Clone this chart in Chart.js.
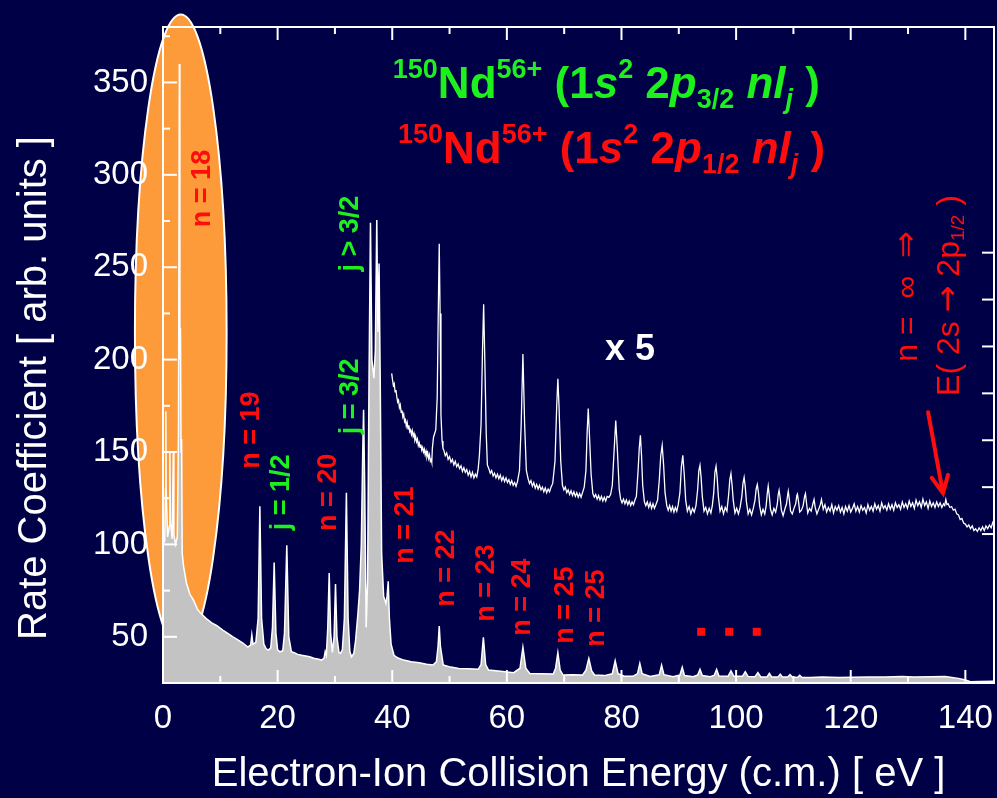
<!DOCTYPE html>
<html>
<head>
<meta charset="utf-8">
<script src="https://cdn.jsdelivr.net/npm/chart.js@4.4.1/dist/chart.umd.min.js"></script>
<style>
  html, body { margin: 0; padding: 0; background: #000046; }
  #wrap { width: 997px; height: 798px; position: relative; }
</style>
</head>
<body>
<div id="wrap"><canvas id="dr"></canvas></div>
<script>
// DR spectrum, full rate (grey) — energy in eV, rate in arb. units
const mainE = [0.0,0.3,0.45,0.5,0.55,0.8,1.1,1.2,1.3,1.6,1.8,1.9,2.2,2.5,2.7,2.85,2.95,3.05,3.15,3.25,3.35,3.6,4.1,4.7,5.3,6.0,6.5,7.5,8.5,9.4,
  10.5,11.5,12.2,13.0,14.0,14.8,15.3,15.5,15.7,16.2,16.6,16.9,17.2,17.6,18.0,18.4,18.8,19.1,19.4,19.7,20.0,20.4,20.9,21.2,21.6,21.95,22.4,22.9,
  23.5,24.2,24.9,25.6,26.3,27.0,27.7,28.1,28.3,28.5,28.75,29.0,29.25,29.55,29.85,30.1,30.35,30.7,30.95,31.3,31.65,32.0,32.3,32.6,32.9,
  33.3,33.6,34.0,34.3,34.6,34.85,35.0,35.2,35.45,35.7,35.95,36.2,36.45,36.8,37.05,37.3,37.5,37.7,37.9,38.15,38.5,38.9,39.1,39.3,39.5,39.8,
  40.3,41.0,42.0,43.3,44.7,46.0,47.1,47.7,48.0,48.2,48.4,48.9,50.2,51.6,53.3,55.0,55.5,55.9,56.3,56.8,58.5,60.0,61.2,62.3,62.8,63.3,64.0,
  66.0,68.1,68.5,68.9,69.3,69.8,71.5,73.2,73.8,74.3,74.8,75.3,77.0,78.4,78.9,79.4,80.5,82.0,82.8,83.2,83.6,85.0,86.6,87.0,87.4,89.0,90.2,
  90.6,91.0,92.5,93.3,93.7,94.1,95.5,96.2,96.6,97.0,98.6,99.1,99.6,101.1,101.6,102.1,103.3,103.8,104.3,105.4,105.8,106.2,107.3,107.7,108.1,
  109.0,109.4,109.8,110.7,111.1,111.5,113.0,115.0,118.0,120.3,123.0,126.0,129.0,131.0,134.0,136.5,138.8,140.0,140.9,142.5,145.0];
const mainRate = [100,102,130,172,130,104,110,150,112,103,150,105,100,104,160,360,200,217,150,157,95,88,79,73,70,65,63,60,57.5,56,
  53.5,51.5,50,48.5,46.5,44.5,45.5,51,46,47,60,120.7,60,46,43.5,42.8,44,55,90.2,52,43,41.9,42.5,52,99.6,50,42,41.4,
  40.5,40,39.6,39.2,38.4,38,37.4,38.5,42,40,55,84.5,52,41.5,50,78.5,50,41.5,41,43,60,128,60,42,39.2,
  41,48,62,75,100,150,172.8,130,55,80,190,274,200,190,205,275.5,215,252,190,95,72,68,72,80,60,46,
  40,38.5,37.4,36.5,36,35.2,34.7,36.5,45,55.8,45,34.7,33.6,32.9,32.7,32.4,35,49.7,35,32,31.5,31,30.6,33,44.3,33,30.2,
  30,29.9,33,41.4,32,29.3,29.5,29.3,32,38.3,31.5,29.3,29,30,37,30,28.7,28.6,30,35.6,30,28.5,29.5,34.6,29.5,28.4,29.3,
  33.5,29,28.4,29.3,32.4,29,28.4,29.2,32.4,28.8,28.6,31.6,28.6,28.6,31.1,28.5,28.4,30.6,28.3,28.3,30.2,28.3,28.2,29.8,28.2,
  28.2,29.5,28.2,28,29.2,28,28,28.2,28,28.1,28.3,28.2,28.5,28.3,28.4,28.5,27.5,26.6,25.7,25.8,26];

// same spectrum above 40 eV, magnified x 5 (white trace)
const x5E = [39.9,40.05,40.2,40.35,40.5,40.65,40.8,40.95,41.1,41.25,41.4,41.55,41.7,41.85,42.0,42.15,42.3,42.45,42.6,42.75,42.9,43.05,43.2,
  43.35,43.5,43.65,43.8,43.95,44.1,44.25,44.4,44.55,44.7,44.85,45.0,45.15,45.3,45.45,45.6,45.75,45.9,46.05,46.2,46.35,46.5,46.65,46.8,46.9,
  47.0,47.2,47.4,47.6,47.85,48.05,48.2,48.35,48.5,48.7,48.85,
  49.0,49.25,49.5,49.75,50.0,50.25,50.5,50.75,51.0,51.25,51.5,51.75,52.0,52.25,52.5,52.75,53.0,53.25,53.5,53.75,54.0,54.25,54.5,54.75,55.0,
  55.2,55.5,55.75,55.95,56.15,56.4,56.6,
  56.85,57.1,57.35,57.6,57.85,58.1,58.35,58.6,58.85,59.1,59.35,59.6,59.85,60.1,60.35,60.6,60.85,61.1,61.35,61.6,61.85,
  62.2,62.5,62.8,63.1,63.4,
  63.7,63.95,64.2,64.45,64.7,64.95,65.2,65.45,65.7,65.95,66.2,66.45,66.7,66.95,67.2,67.45,67.7,68.0,
  68.4,68.7,68.9,69.1,69.4,69.7,
  69.95,70.2,70.45,70.7,70.95,71.2,71.45,71.7,71.95,72.2,72.45,72.7,72.95,73.2,73.5,
  73.8,74.0,74.2,74.4,74.7,75.0,
  75.25,75.5,75.75,76.0,76.25,76.5,76.75,77.0,77.25,77.5,77.8,78.1,
  78.4,78.7,79.0,79.3,79.6,79.85,
  80.1,80.35,80.6,80.85,81.1,81.35,81.6,81.85,82.1,82.35,82.6,
  82.9,83.1,83.3,83.5,83.7,84.0,
  84.25,84.5,84.75,85.0,85.25,85.5,85.75,86.0,86.3,
  86.6,86.85,87.1,87.35,87.6,87.9,
  88.15,88.4,88.65,88.9,89.15,89.4,89.65,89.9,
  90.2,90.45,90.7,90.95,91.2,91.5,91.8,92.1,92.4,92.7,93.0,
  93.3,93.5,93.7,93.9,94.1,94.4,94.7,95.0,95.3,95.6,95.85,
  96.1,96.3,96.5,96.7,96.9,97.2,97.5,97.8,98.1,98.4,
  98.7,98.9,99.1,99.3,99.5,99.8,100.1,100.4,100.7,
  101.0,101.2,101.4,101.6,101.8,102.1,102.4,102.7,103.0,
  103.3,103.5,103.7,103.9,104.1,104.4,104.7,105.0,105.25,
  105.45,105.6,105.8,106.0,106.3,106.6,106.9,107.2,
  107.35,107.5,107.7,107.9,108.2,108.5,108.8,
  109.0,109.1,109.3,109.5,109.8,110.1,110.4,
  110.6,110.7,110.9,111.1,111.4,111.7,111.95,112.1,112.3,112.5,112.8,
  113.1,113.4,113.6,113.8,114.1,114.4,114.7,114.9,
  115.2,115.5,115.8,116.1,116.4,116.7,117.0,117.3,117.6,117.9,118.2,118.5,118.8,119.1,119.4,119.7,120.0,120.3,120.6,120.9,
  121.2,121.5,121.8,122.1,122.4,122.7,123.0,123.3,123.6,123.9,124.2,124.5,124.8,125.1,125.4,125.7,126.0,126.3,126.6,126.9,
  127.2,127.5,127.8,128.1,128.4,128.7,129.0,129.3,129.6,129.9,130.2,130.5,130.8,131.1,131.4,131.7,132.0,132.3,132.6,132.9,
  133.2,133.5,133.8,134.1,134.4,134.7,135.0,135.3,135.6,135.9,136.2,136.4,136.6,136.8,137.0,137.3,137.6,137.9,138.2,138.5,
  138.8,139.1,139.4,139.7,140.0,140.3,140.6,140.9,141.2,141.5,141.8,142.1,142.4,142.7,143.0,143.3,143.6,143.9,144.2,144.5,144.8,145.0];
const x5Rate = [192.6,189,186,187,182.5,183.5,179.8,177,178,174,175.5,171.5,172.5,169,170.5,166.5,167.5,164,166,162.5,164.5,161,162,
  159.5,161.5,158.5,160,156.5,158,155.5,157,153.5,155,152.5,154,151,152.5,150,151.5,148.5,150.5,147.5,149.5,146.5,148.5,145,146,144.5,
  152,158,160,162,180,230,262.7,225,170,156,152,
  151,148,149.5,146,147.5,144.5,146,143,145,142,143.5,141,142.5,139.5,141.5,139,140.5,137.5,139.5,136.5,139,136,138,136.5,141,
  148,165,205,230,200,160,143,
  141,138.5,140,137,138.5,136,138,135.5,137.5,134.5,136.5,134,136,133.5,135,132.5,134.5,132,133.5,131.5,134,
  140,165,203,165,140,
  135.6,133,134.5,131.5,133.5,130.5,132.5,130,132,129.5,131,128.5,130.5,128,130,128.5,131,133,
  145,175,189.7,175,145,132,
  129.5,131,128,129.5,127,129,126.5,128.5,126,128,125.5,127.5,125.5,128,131,
  140,160,173.5,160,138,127.5,
  125.5,127,124.5,126.5,124,126,123.5,125.5,123.5,126,125.5,127,
  132,150,167,150,130,124.5,
  122.5,124.5,122,124,121.5,123.5,121,123,121.5,124,126,
  140,152,159,148,132,123,
  121,123,120,122.5,119.5,122,119.5,121.5,124,
  135,148,153.6,143,128,121,
  118.5,121,118,120.5,117.5,120,118,121.5,
  128,142,148.2,138,124,118,120.5,116.5,119.5,117.5,121,
  130,140,142.8,136,126,118,120,116.5,119.5,117,121,
  128,139,142.3,136,126,118,120.5,116.5,120,118,
  127,135,138.3,132,124,117,119.5,116.5,120,
  126,133,136.2,131,123,116.5,119,116,119.5,
  124,130,132.4,128,121,116,119,116.5,121,
  128,131.5,126,119,116,119.5,117.5,122,
  127,129.3,125,118.5,115.5,119,122,
  127,128.8,124,118,116.5,119.5,122,
  126.5,127.2,123,117.5,118.5,121,126,127.5,122,117,119.5,
  118,122,124.3,120,116.5,119,121.5,124.3,
  119,121.5,117.5,120,118,121.5,117,120.5,118.5,121,117.5,120,116.5,120.5,118,121,117.5,119.5,122,118,
  120.5,117.5,121,118.5,120,117,121.5,118.5,120.5,118,122,119,121,118,122.5,119.5,121,118.5,122,119,
  121.5,118.5,122.5,120,121.5,119,123,120,122,119.5,123.5,120.5,122.5,119.5,124,121,123,120,124.5,121,
  123,119.5,123.5,120.5,122.5,120,123,120.5,122.5,120,122,121,124.3,121.5,122,120,120.5,118.5,119,116.5,
  116,113.5,114,111.5,111,109.5,110.5,108.5,110,107.5,108.5,107,109,107.5,109.5,107.5,110,108.5,110.5,109,112,111];

const xTicks = [0, 20, 40, 60, 80, 100, 120, 140];
const xMinor = [10, 30, 50, 70, 90, 110, 130];
const yTicks = [50, 100, 150, 200, 250, 300, 350];
const yMinor = [75, 125, 175, 225, 275, 325, 375];
const rightTicks = [100, 125, 150, 175, 200, 225, 250];

// resonance labels: text, energy, rate
const peakNotes = [
  ['n = 18', 6.98, 292.6, 'red'],
  ['n = 19', 15.53, 161.8, 'red'],
  ['j = 1/2', 20.6, 128.2, 'green'],
  ['n = 20', 28.8, 128.2, 'red'],
  ['j = 3/2', 32.8, 180.1, 'green'],
  ['j > 3/2', 32.8, 268.2, 'green'],
  ['n = 21', 42.4, 110.4, 'red'],
  ['n = 22', 49.4, 87.2, 'red'],
  ['n = 23', 56.4, 79.1, 'red'],
  ['n = 24', 62.8, 71.5, 'red'],
  ['n = 25', 70.3, 67.2, 'red'],
  ['n = 25', 75.7, 65.5, 'red'],
];
const dotsE = [93.9, 98.8, 103.6];

const BG = '#000046';
const RED = '#ff0d0d';
const GREEN = '#1ef01e';
const FONT = '"Liberation Sans", Arial, Helvetica, sans-serif';
const SYM = '"DejaVu Sans", sans-serif';
const COLORS = { red: RED, green: GREEN };

function drawRich(ctx, x, y, runs) {
  runs.forEach(r => {
    ctx.font = r.f;
    ctx.fillText(r.t, x, y + (r.dy || 0));
    x += ctx.measureText(r.t).width;
  });
}
function richWidth(ctx, runs) {
  let w = 0;
  runs.forEach(r => { ctx.font = r.f; w += ctx.measureText(r.t).width; });
  return w;
}
function drawRot(ctx, x, y, draw) {
  ctx.save();
  ctx.translate(x, y);
  ctx.rotate(-Math.PI / 2);
  draw();
  ctx.restore();
}
function formula(sub) {
  const big = `bold 44px ${FONT}`, bigI = `italic bold 44px ${FONT}`;
  const sm = `bold 27px ${FONT}`, smI = `italic bold 27px ${FONT}`;
  return [
    { t: '150', f: sm, dy: -20 }, { t: 'Nd', f: big }, { t: '56+', f: sm, dy: -20 },
    { t: ' (1', f: big }, { t: 's', f: bigI }, { t: '2', f: sm, dy: -20 },
    { t: ' 2', f: big }, { t: 'p', f: bigI }, { t: sub, f: sm, dy: 10 },
    { t: ' nl', f: bigI }, { t: 'j', f: smI, dy: 10 }, { t: ' )', f: big }
  ];
}

const decor = {
  id: 'decor',
  beforeDraw(chart) {
    const ctx = chart.ctx;
    ctx.save();
    ctx.fillStyle = BG;
    ctx.fillRect(0, 0, chart.width, chart.height);
    ctx.restore();
  },
  beforeDatasetsDraw(chart) {
    // highlight of the n = 18 group
    const { ctx, scales: { x, y } } = chart;
    const cx = x.getPixelForValue(3.1), cy = y.getPixelForValue(214.7);
    const rx = x.getPixelForValue(3.1 + 8.0) - cx;
    const ry = cy - y.getPixelForValue(214.7 + 172);
    ctx.save();
    ctx.beginPath();
    ctx.ellipse(cx, cy, rx, ry, 0, 0, Math.PI * 2);
    ctx.fillStyle = '#fd9a3a';
    ctx.fill();
    ctx.lineWidth = 2;
    ctx.strokeStyle = '#ffffff';
    ctx.stroke();
    ctx.restore();
  },
  afterDatasetsDraw(chart) {
    const { ctx, chartArea: a, scales: { x, y, y2 } } = chart;
    ctx.save();
    ctx.strokeStyle = '#ffffff';
    ctx.lineWidth = 2;
    ctx.strokeRect(a.left, a.top, a.right - a.left, a.bottom - a.top);
    const tick = (x1, y1, x2, y2p) => { ctx.beginPath(); ctx.moveTo(x1, y1); ctx.lineTo(x2, y2p); ctx.stroke(); };
    xTicks.forEach(v => { const p = x.getPixelForValue(v); tick(p, a.bottom, p, a.bottom - 13); tick(p, a.top, p, a.top + 13); });
    xMinor.forEach(v => { const p = x.getPixelForValue(v); tick(p, a.bottom, p, a.bottom - 7); tick(p, a.top, p, a.top + 7); });
    yTicks.forEach(v => { const p = y.getPixelForValue(v); tick(a.left, p, a.left + 14, p); });
    yMinor.forEach(v => { const p = y.getPixelForValue(v); tick(a.left, p, a.left + 7, p); });
    y2.ticks.forEach(t => { const p = y2.getPixelForValue(t.value); tick(a.right, p, a.right - 12, p); });
    ctx.restore();
  },
  afterDraw(chart) {
    const { ctx, chartArea: a, scales: { x, y } } = chart;
    ctx.save();

    // axis titles
    ctx.fillStyle = '#ffffff';
    ctx.font = `40px ${FONT}`;
    ctx.textAlign = 'center';
    ctx.textBaseline = 'middle';
    ctx.fillText('Electron-Ion Collision Energy (c.m.) [ eV ]', (a.left + a.right) / 2, 775);
    drawRot(ctx, 35, 388, () => ctx.fillText('Rate Coefficient [ arb. units ]', 0, 0));

    // ion / configuration header
    ctx.textAlign = 'left';
    ctx.textBaseline = 'alphabetic';
    ctx.fillStyle = GREEN;
    drawRich(ctx, x.getPixelForValue(40.1), y.getPixelForValue(341.8), formula('3/2'));
    ctx.fillStyle = RED;
    drawRich(ctx, x.getPixelForValue(41.0), y.getPixelForValue(306.6), formula('1/2'));

    // resonance labels
    ctx.textAlign = 'center';
    ctx.textBaseline = 'middle';
    ctx.font = `bold 27px ${FONT}`;
    peakNotes.forEach(([t, e, r, c]) => {
      ctx.fillStyle = COLORS[c];
      drawRot(ctx, x.getPixelForValue(e), y.getPixelForValue(r), () => ctx.fillText(t, 0, 0));
    });

    ctx.fillStyle = RED;
    dotsE.forEach(e => {
      const px = x.getPixelForValue(e), py = y.getPixelForValue(52.7);
      ctx.fillRect(px - 4, py - 4, 8, 8);
    });

    ctx.fillStyle = '#ffffff';
    ctx.font = `bold 36px ${FONT}`;
    ctx.fillText('x 5', x.getPixelForValue(81.5), y.getPixelForValue(205));

    // series limit
    ctx.fillStyle = RED;
    ctx.textAlign = 'left';
    const inf = [
      { t: 'n =  ', f: `32px ${FONT}` },
      { t: '\u221e', f: `32px ${FONT}` },
      { t: '  ', f: `32px ${FONT}` },
      { t: '\u21d2', f: `32px ${SYM}` }
    ];
    drawRot(ctx, x.getPixelForValue(130), y.getPixelForValue(234.2), () => drawRich(ctx, -richWidth(ctx, inf) / 2, 0, inf));
    const lim = [
      { t: 'E( 2s ', f: `32px ${FONT}` },
      { t: '\u2192', f: `32px ${SYM}` },
      { t: ' 2p', f: `32px ${FONT}` },
      { t: '1/2', f: `19px ${FONT}`, dy: 9 },
      { t: ' )', f: `32px ${FONT}` }
    ];
    drawRot(ctx, x.getPixelForValue(137.3), y.getPixelForValue(234.7), () => drawRich(ctx, -richWidth(ctx, lim) / 2, 0, lim));

    const ax = x.getPixelForValue(133.5), ay = y.getPixelForValue(171.5);
    const bx = x.getPixelForValue(136.1), by = y.getPixelForValue(127.7);
    const ang = Math.atan2(by - ay, bx - ax);
    ctx.strokeStyle = RED;
    ctx.lineWidth = 4;
    ctx.lineCap = 'round';
    ctx.beginPath();
    ctx.moveTo(ax, ay); ctx.lineTo(bx, by);
    ctx.moveTo(bx - 19 * Math.cos(ang - 0.45), by - 19 * Math.sin(ang - 0.45));
    ctx.lineTo(bx, by);
    ctx.lineTo(bx - 19 * Math.cos(ang + 0.45), by - 19 * Math.sin(ang + 0.45));
    ctx.stroke();

    ctx.restore();
  }
};

new Chart(document.getElementById('dr'), {
  type: 'line',
  data: {
    datasets: [
      {
        label: 'x 5',
        data: x5E.map((e, i) => ({ x: e, y: x5Rate[i] })),
        borderColor: '#ffffff',
        borderWidth: 1.3,
        pointRadius: 0,
        fill: false,
        tension: 0
      },
      {
        label: 'rate',
        data: mainE.map((e, i) => ({ x: e, y: mainRate[i] })),
        borderColor: '#ffffff',
        borderWidth: 1.5,
        backgroundColor: '#c3c3c3',
        pointRadius: 0,
        fill: 'start',
        tension: 0
      }
    ]
  },
  options: {
    responsive: true,
    maintainAspectRatio: false,
    animation: false,
    layout: { padding: { top: 27, right: 0, bottom: 0, left: 0 } },
    plugins: { legend: { display: false }, tooltip: { enabled: false } },
    scales: {
      x: {
        type: 'linear', min: 0, max: 145,
        afterBuildTicks: s => { s.ticks = xTicks.map(v => ({ value: v })); },
        afterFit: s => { s.height = 115; s.paddingLeft = 0; s.paddingRight = 0; },
        grid: { display: false, drawTicks: false },
        border: { display: false },
        ticks: { color: '#ffffff', font: { family: FONT, size: 33 }, padding: 16, maxRotation: 0, autoSkip: false }
      },
      y: {
        type: 'linear', min: 25, max: 380,
        afterBuildTicks: s => { s.ticks = yTicks.map(v => ({ value: v })); },
        afterFit: s => { s.width = 163; s.paddingTop = 0; s.paddingBottom = 0; },
        grid: { display: false, drawTicks: false },
        border: { display: false },
        // labels sit above the n = 18 ellipse
        ticks: { color: '#ffffff', font: { family: FONT, size: 33 }, padding: 15, z: 1 }
      },
      y2: {
        type: 'linear', position: 'right', min: 20.6, max: 370.3,
        afterBuildTicks: s => { s.ticks = rightTicks.map(v => ({ value: v })); },
        afterFit: s => { s.width = 3; s.paddingTop = 0; s.paddingBottom = 0; },
        grid: { display: false, drawTicks: false },
        border: { display: false },
        ticks: { display: false }
      }
    }
  },
  plugins: [decor]
});
</script>
</body>
</html>
